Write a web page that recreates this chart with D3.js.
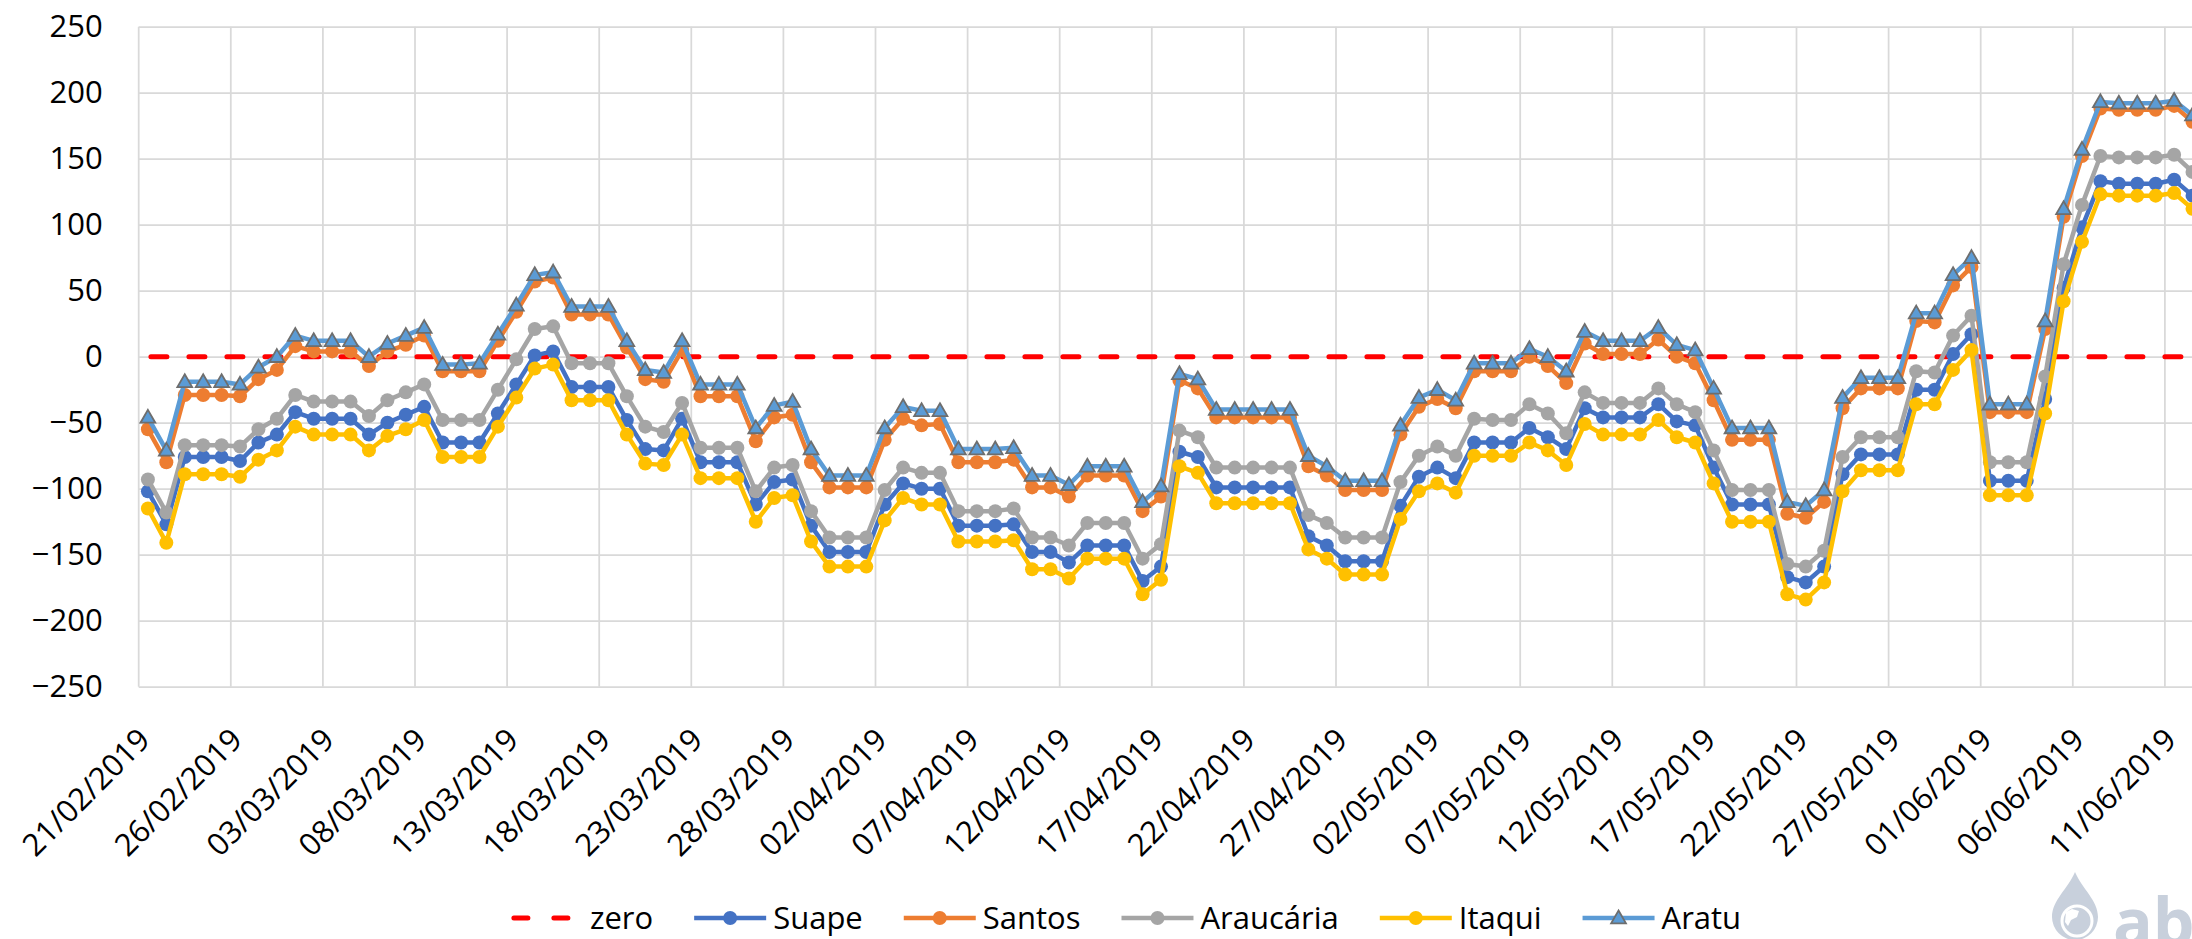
<!DOCTYPE html>
<html>
<head>
<meta charset="utf-8">
<script src="https://cdn.jsdelivr.net/npm/d3@7/dist/d3.min.js"></script>
<style>
  html, body { margin: 0; padding: 0; background: #fff; }
  svg { display: block; font-family: "Open Sans", sans-serif; }
</style>
</head>
<body>
<div id="chart"></div>
<script>
// daily categories, 21/02/2019 onwards
const startDate = new Date(2019, 1, 21);
const dayCount = 112;

const yTicks = [-250, -200, -150, -100, -50, 0, 50, 100, 150, 200, 250];

const zero = new Array(dayCount).fill(0);

const suape = [
  -102, -127, -76, -76, -76, -79, -65, -59, -42, -47,
  -47, -47, -59, -50, -44, -38, -65, -65, -65, -43,
  -21, 1, 4, -23, -23, -23, -48, -70, -71, -47,
  -80, -80, -80, -112, -95, -93, -128, -148, -148, -148,
  -112, -96, -100, -100, -128, -128, -128, -127, -148, -148,
  -156, -143, -143, -143, -170, -159, -72, -76, -99, -99,
  -99, -99, -99, -136, -143, -155, -155, -155, -113, -91,
  -84, -92, -65, -65, -65, -54, -61, -70, -39, -46,
  -46, -46, -36, -49, -52, -84, -112, -112, -112, -167,
  -171, -159, -89, -74, -74, -74, -25, -25, 2, 17,
  -94, -94, -94, -32, 52, 98, 133, 131, 131, 131,
  134, 122
];

const santos = [
  -55, -80, -29, -29, -29, -30, -17, -10, 8, 4,
  4, 4, -7, 4, 9, 16, -11, -11, -11, 12,
  34, 57, 60, 32, 32, 32, 7, -17, -19, 5,
  -30, -30, -30, -64, -46, -44, -80, -99, -99, -99,
  -63, -47, -52, -51, -80, -80, -80, -78, -99, -99,
  -106, -90, -90, -90, -117, -106, -18, -24, -46, -46,
  -46, -46, -46, -83, -90, -101, -101, -101, -59, -38,
  -32, -39, -11, -11, -11, 0, -7, -20, 10, 2,
  2, 2, 13, 0, -5, -33, -63, -63, -63, -119,
  -122, -110, -39, -24, -24, -24, 27, 26, 54, 68,
  -42, -42, -42, 21, 106, 152, 188, 187, 187, 187,
  190, 178
];

const araucaria = [
  -93, -118, -67, -67, -67, -68, -55, -47, -29, -34,
  -34, -34, -45, -33, -27, -21, -48, -48, -48, -25,
  -2, 21, 23, -5, -5, -5, -30, -53, -57, -35,
  -69, -69, -69, -102, -84, -82, -117, -137, -137, -137,
  -101, -84, -88, -88, -117, -117, -117, -115, -137, -137,
  -143, -126, -126, -126, -153, -142, -56, -61, -84, -84,
  -84, -84, -84, -120, -126, -137, -137, -137, -95, -75,
  -68, -75, -47, -48, -48, -36, -43, -58, -27, -35,
  -35, -35, -24, -36, -42, -71, -101, -101, -101, -157,
  -159, -147, -76, -61, -61, -61, -11, -12, 16, 31,
  -80, -80, -80, -15, 70, 115, 152, 151, 151, 151,
  153, 140
];

const itaqui = [
  -115, -141, -89, -89, -89, -91, -78, -71, -53, -59,
  -59, -59, -71, -60, -55, -48, -76, -76, -76, -53,
  -31, -9, -6, -33, -33, -33, -59, -81, -82, -59,
  -92, -92, -92, -125, -107, -105, -140, -159, -159, -159,
  -124, -107, -112, -112, -140, -140, -140, -139, -161, -161,
  -168, -153, -153, -153, -180, -169, -83, -88, -111, -111,
  -111, -111, -111, -146, -153, -165, -165, -165, -123, -102,
  -96, -103, -75, -75, -75, -65, -71, -82, -51, -59,
  -59, -59, -48, -61, -65, -96, -125, -125, -125, -180,
  -184, -171, -102, -86, -86, -86, -36, -36, -10, 5,
  -105, -105, -105, -43, 42, 87, 123, 122, 122, 122,
  124, 112
];

const aratu = [
  -46, -71, -19, -19, -19, -21, -8, 0, 16, 12,
  12, 12, 0, 10, 16, 22, -6, -6, -5, 17,
  39, 62, 64, 38, 38, 38, 12, -10, -12, 12,
  -21, -21, -21, -54, -37, -34, -70, -90, -90, -90,
  -54, -38, -41, -41, -70, -70, -70, -69, -90, -90,
  -97, -83, -83, -83, -110, -98, -13, -17, -40, -40,
  -40, -40, -40, -75, -83, -94, -94, -94, -52, -31,
  -25, -33, -5, -5, -5, 6, 0, -11, 19, 12,
  12, 12, 22, 9, 5, -24, -54, -54, -54, -110,
  -113, -101, -31, -16, -16, -16, 33, 33, 62, 75,
  -36, -36, -36, 27, 112, 157, 193, 192, 192, 192,
  194, 183
];

const seriesNames = ["zero", "Suape", "Santos", "Araucária", "Itaqui", "Aratu"];
const seriesValues = [zero, suape, santos, araucaria, itaqui, aratu];
const seriesColors = ["#FF0000", "#4472C4", "#ED7D31", "#A5A5A5", "#FFC000", "#5B9BD5"];
const seriesMarkers = ["none", "circle", "circle", "circle", "circle", "triangle"];

const W = 2192, H = 939;
const plotLeft = 138.7, plotTop = 26.7, plotBottom = 686.7;
const dayWidth = 18.42;
const plotRight = plotLeft + dayWidth * dayCount;
const gridColor = "#D9D9D9";
const fontSize = 31;

let days = d3.timeDay.range(startDate, d3.timeDay.offset(startDate, dayCount));
let fmt = d3.timeFormat("%d/%m/%Y");

let svg = d3.select("#chart").append("svg")
  .attr("width", W)
  .attr("height", H)
  .attr("viewBox", "0 0 " + W + " " + H)
  .style("overflow", "hidden");

let x = d3.scaleBand()
  .domain(d3.range(dayCount))
  .range([plotLeft, plotRight])
  .padding(0);

let y = d3.scaleLinear()
  .domain([-250, 250])
  .range([plotBottom, plotTop]);

// Horizontal grid + y labels
let yAxis = svg.append("g")
  .attr("transform", "translate(" + plotLeft + ",0)")
  .call(d3.axisLeft(y)
    .tickValues(yTicks)
    .tickSize(-(plotRight - plotLeft))
    .tickPadding(36)
    .tickFormat(d3.format("d")));
yAxis.select(".domain").remove();
yAxis.selectAll(".tick line")
  .attr("stroke", gridColor)
  .attr("stroke-width", 1.75);
yAxis.selectAll("text")
  .attr("font-size", fontSize)
  .attr("fill", "#000")
  .attr("font-family", "'Open Sans', sans-serif");

// Vertical grid, one line every 5 days
let gridDays = d3.range(0, dayCount + 1, 5);
svg.append("g")
  .selectAll("line")
  .data(gridDays)
  .enter()
  .append("line")
  .attr("x1", function(d) { return plotLeft + d * x.bandwidth(); })
  .attr("x2", function(d) { return plotLeft + d * x.bandwidth(); })
  .attr("y1", plotTop)
  .attr("y2", plotBottom)
  .attr("stroke", gridColor)
  .attr("stroke-width", 1.75);

// x labels
let xAxis = svg.append("g")
  .attr("transform", "translate(0," + plotBottom + ")")
  .call(d3.axisBottom(x)
    .tickValues(d3.range(0, dayCount, 5))
    .tickSize(0)
    .tickFormat(function(i) { return fmt(days[i]); }));
xAxis.select(".domain").remove();
xAxis.selectAll("text")
  .attr("font-size", fontSize)
  .attr("fill", "#000")
  .attr("font-family", "'Open Sans', sans-serif")
  .attr("text-anchor", "end")
  .attr("x", 0)
  .attr("y", 0)
  .attr("dy", 0)
  .attr("transform", "translate(4,55) rotate(-45)");

// Series lines and markers
let line = d3.line()
  .x(function(d, i) { return x(i) + x.bandwidth() / 2; })
  .y(function(d) { return y(d); });

let triangle = d3.symbol().type(d3.symbolTriangle).size(95);

seriesValues.forEach(function(vals, s) {
  let g = svg.append("g");
  if (s === 0) {
    g.append("path")
      .attr("d", line(vals))
      .attr("fill", "none")
      .attr("stroke", seriesColors[s])
      .attr("stroke-width", 5)
      .attr("stroke-linecap", "round")
      .attr("stroke-dasharray", "16,22")
      .attr("stroke-dashoffset", -3);
    return;
  }
  g.append("path")
    .attr("d", line(vals))
    .attr("fill", "none")
    .attr("stroke", seriesColors[s])
    .attr("stroke-width", 4.5)
    .attr("stroke-linejoin", "round");

  if (seriesMarkers[s] === "circle") {
    g.selectAll("circle")
      .data(vals)
      .enter()
      .append("circle")
      .attr("cx", function(d, i) { return x(i) + x.bandwidth() / 2; })
      .attr("cy", function(d) { return y(d); })
      .attr("r", 7)
      .attr("fill", seriesColors[s]);
  } else {
    g.selectAll("path.mark")
      .data(vals)
      .enter()
      .append("path")
      .attr("class", "mark")
      .attr("d", triangle)
      .attr("transform", function(d, i) {
        return "translate(" + (x(i) + x.bandwidth() / 2) + "," + (y(d) + 1) + ")";
      })
      .attr("fill", seriesColors[s])
      .attr("stroke", "#6E6E6E")
      .attr("stroke-width", 1.8);
  }
});

// Legend
let legend = svg.append("g");
let legendY = 918;
let items = legend.selectAll("g")
  .data(seriesNames)
  .enter()
  .append("g");

items.append("text")
  .text(function(d) { return d; })
  .attr("x", 79)
  .attr("y", legendY + 11)
  .attr("font-size", fontSize)
  .attr("fill", "#000")
  .attr("font-family", "'Open Sans', sans-serif");

let widths = [];
items.each(function() {
  widths.push(79 + d3.select(this).select("text").node().getComputedTextLength());
});
let gap = 41;
let totalW = d3.sum(widths) + gap * (widths.length - 1);
let cursor = 1126 - totalW / 2;
items.attr("transform", function(d, i) {
  let t = "translate(" + cursor + ",0)";
  cursor += widths[i] + gap;
  return t;
});

items.each(function(d, i) {
  let g = d3.select(this);
  if (i === 0) {
    g.append("line")
      .attr("x1", 3).attr("x2", 66)
      .attr("y1", legendY).attr("y2", legendY)
      .attr("stroke", seriesColors[i])
      .attr("stroke-width", 5)
      .attr("stroke-linecap", "round")
      .attr("stroke-dasharray", "14,26");
    return;
  }
  g.append("line")
    .attr("x1", 0).attr("x2", 72)
    .attr("y1", legendY).attr("y2", legendY)
    .attr("stroke", seriesColors[i])
    .attr("stroke-width", 4.5);
  if (seriesMarkers[i] === "circle") {
    g.append("circle")
      .attr("cx", 36).attr("cy", legendY).attr("r", 7)
      .attr("fill", seriesColors[i]);
  } else {
    g.append("path")
      .attr("d", triangle)
      .attr("transform", "translate(36," + (legendY + 1) + ")")
      .attr("fill", seriesColors[i])
      .attr("stroke", "#6E6E6E")
      .attr("stroke-width", 1.8);
  }
});

// Watermark logo, cut by the right edge
let logo = svg.append("g").attr("fill", "#C8D0DC");
logo.append("path")
  .attr("d", "M2075,872 C2068,889 2052,900 2052,917 A23,23 0 0,0 2098,917 C2098,900 2082,889 2075,872 Z");
logo.append("circle")
  .attr("cx", 2077).attr("cy", 921).attr("r", 15)
  .attr("fill", "none")
  .attr("stroke", "#fff")
  .attr("stroke-width", 3);
logo.append("path")
  .attr("d", "M2066,912 l6,-3 l7,2 l-2,6 l-6,3 l-3,6 l-3,-4 z")
  .attr("fill", "#fff");
logo.append("text")
  .text("ab")
  .attr("x", 2113)
  .attr("y", 946)
  .attr("font-size", 66)
  .attr("font-weight", "bold")
  .attr("font-family", "'Open Sans', sans-serif");
</script>
</body>
</html>
